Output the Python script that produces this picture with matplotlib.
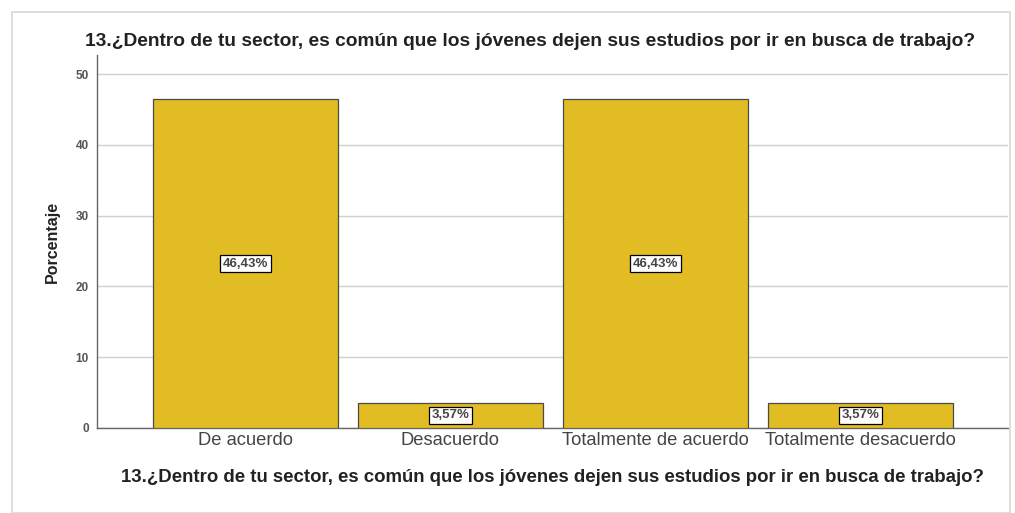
import matplotlib.pyplot as plt
from matplotlib.patches import Rectangle

plt.rcParams['font.family'] = ['Liberation Sans', 'DejaVu Sans']

# Chart data
categories = ["De acuerdo", "Desacuerdo", "Totalmente de acuerdo", "Totalmente desacuerdo"]
percentages = [46.43, 3.57, 46.43, 3.57]
bar_labels = ["46,43%", "3,57%", "46,43%", "3,57%"]
title = "13.¿Dentro de tu sector, es común que los jóvenes dejen sus estudios por ir en busca de trabajo?"

fig = plt.figure(figsize=(10.15, 5.13), dpi=100)
fig.patch.set_facecolor("white")

# light frame around the chart (like the pasted screenshot)
fig.patches.append(Rectangle((12 / 1015, 0), 998 / 1015, 1 - 12 / 513,
                             transform=fig.transFigure, fill=False,
                             edgecolor="#d8d8d8", linewidth=1.2))

ax = fig.add_axes([97 / 1015, 85 / 513, 911 / 1015, 373 / 513])

x = range(len(categories))
ax.bar(x, percentages, width=0.9, color="#E1BC22", edgecolor="#4a4a4a",
       linewidth=0.9, zorder=3)

for xi, val, lab in zip(x, percentages, bar_labels):
    ax.text(xi, val / 2, lab, ha="center", va="center", fontsize=9.5,
            fontweight="bold", color="#444444", zorder=4,
            bbox=dict(boxstyle="square,pad=0.2", facecolor="white",
                      edgecolor="black", linewidth=0.9))

ax.set_xlim(-0.724, 3.72)
ax.set_ylim(0, 52.7)
ax.set_yticks([0, 10, 20, 30, 40, 50])
ax.set_xticks(list(x))
ax.set_xticklabels(categories, fontsize=13.2, color="#444444")
for lbl in ax.get_yticklabels():
    lbl.set_fontweight("bold")
ax.tick_params(axis="y", labelsize=8.5, colors="#555555", length=0, pad=6)
ax.tick_params(axis="x", length=0, pad=3)

ax.grid(axis="y", color="#d0d0d0", linewidth=1, zorder=0)
ax.set_axisbelow(True)
for side in ["top", "right"]:
    ax.spines[side].set_visible(False)
for side in ["left", "bottom"]:
    ax.spines[side].set_color("#666666")
    ax.spines[side].set_linewidth(1)

ax.set_ylabel("Porcentaje", fontsize=11.5, fontweight="bold", color="#222222", labelpad=11)
ax.set_xlabel(title, fontsize=13.4, fontweight="bold", color="#222222", labelpad=14)
fig.text(530 / 1015, 1 - 42 / 513, title, ha="center", va="center",
         fontsize=13.8, fontweight="bold", color="#222222")

fig.savefig("out.png", dpi=100)
